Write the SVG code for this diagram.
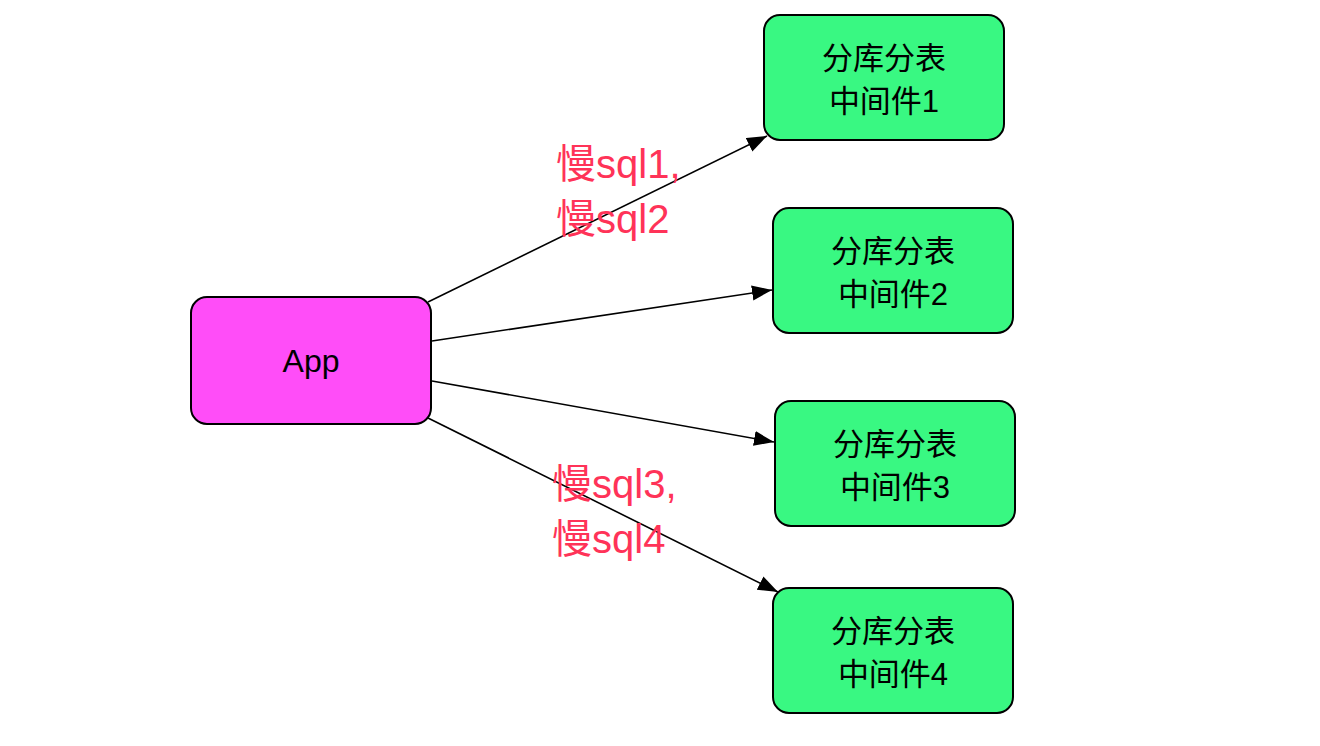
<svg xmlns="http://www.w3.org/2000/svg" width="1320" height="746" viewBox="0 0 1320 746">
<defs>
<style>
.node rect{stroke:#000;stroke-width:2}
.app rect{fill:#ff4df8}
.mid rect{fill:#39f882}
.t{font-family:"Liberation Sans","Noto Sans CJK SC",sans-serif;font-size:31px;fill:#000;text-anchor:middle}
.lbl{font-family:"Liberation Sans","Noto Sans CJK SC",sans-serif;font-size:40px;fill:#ff3358}
.edge{stroke:#000;stroke-width:1.6;fill:none;marker-end:url(#arr)}
</style>
<marker id="arr" markerUnits="userSpaceOnUse" markerWidth="22" markerHeight="16" refX="20" refY="7.5" orient="auto">
<path d="M0,0 L20,7.5 L0,15 z" fill="#000"/>
</marker>
</defs>
<rect width="1320" height="746" fill="#fff"/>
<g id="connectors">
<path class="edge" d="M428,302 L767,136"/>
<path class="edge" d="M432,341 L772,290"/>
<path class="edge" d="M432,381 L774,442"/>
<path class="edge" d="M428,418 L778,592"/>
</g>
<g id="app" class="node app">
<rect x="191" y="297" width="240" height="127" rx="16"/>
<text class="t" x="311" y="372" style="font-size:32px">App</text>
</g>
<g id="mid1" class="node mid">
<rect x="764" y="15" width="240" height="125" rx="16"/>
<text class="t" x="884" y="69">分库分表</text>
<text class="t" x="884" y="112">中间件1</text>
</g>
<g id="mid2" class="node mid">
<rect x="773" y="208" width="240" height="125" rx="16"/>
<text class="t" x="893" y="262">分库分表</text>
<text class="t" x="893" y="305">中间件2</text>
</g>
<g id="mid3" class="node mid">
<rect x="775" y="401" width="240" height="125" rx="16"/>
<text class="t" x="895" y="455">分库分表</text>
<text class="t" x="895" y="498">中间件3</text>
</g>
<g id="mid4" class="node mid">
<rect x="773" y="588" width="240" height="125" rx="16"/>
<text class="t" x="893" y="642">分库分表</text>
<text class="t" x="893" y="685">中间件4</text>
</g>
<g id="labels">
<text class="lbl" x="556" y="178">慢sql1,</text>
<text class="lbl" x="556" y="233">慢sql2</text>
<text class="lbl" x="552" y="498">慢sql3,</text>
<text class="lbl" x="552" y="553">慢sql4</text>
</g>
</svg>
